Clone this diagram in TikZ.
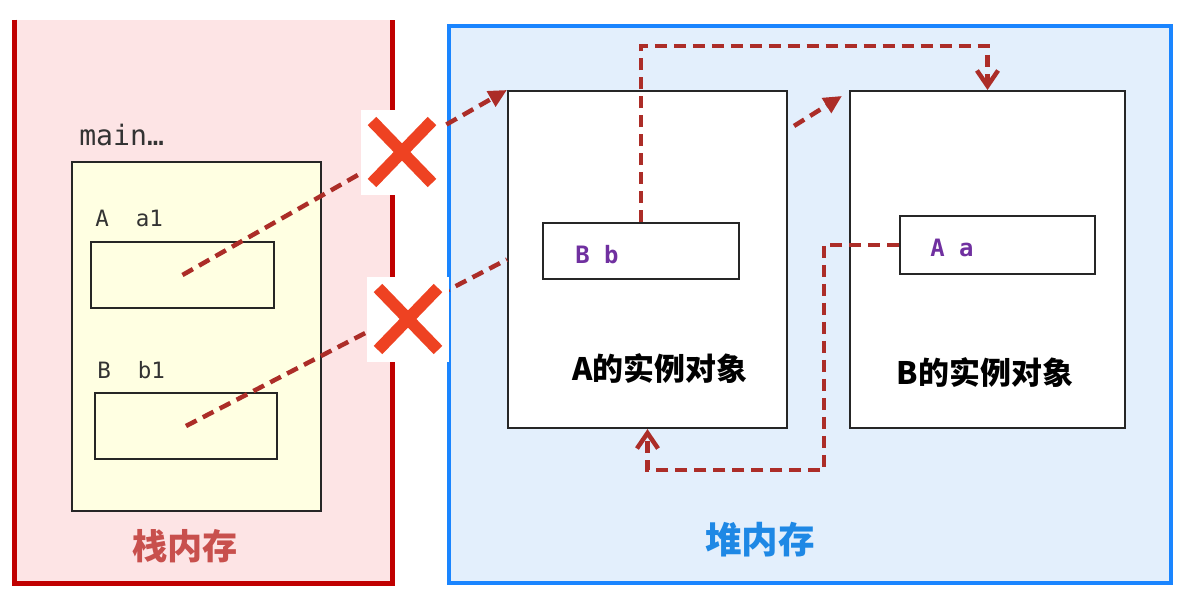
\documentclass[tikz,border=0pt]{standalone}
\usepackage{fontspec}
\setmonofont{DejaVu Sans Mono}
\newfontfamily\cjk{Noto Sans CJK SC}
\usepackage{xcolor}
\usetikzlibrary{arrows.meta, calc}
\definecolor{stackred}{RGB}{192, 0, 0}
\definecolor{stackbg}{RGB}{253, 228, 229}
\definecolor{heapblue}{RGB}{26, 133, 255}
\definecolor{heapbg}{RGB}{227, 239, 252}
\definecolor{framebg}{RGB}{255, 255, 226}
\definecolor{refred}{RGB}{172, 45, 40}
\definecolor{crossred}{RGB}{238, 66, 34}
\definecolor{varpurple}{RGB}{112, 48, 160}
\definecolor{stacklabel}{RGB}{200, 80, 77}
\definecolor{heaplabel}{RGB}{30, 136, 229}
\newcommand{\px}{0.025cm}

\begin{document}
\begin{tikzpicture}[x=\px, y=-\px,
				wh/.style 2 args={minimum width=#1*\px, minimum height=#2*\px},
				area/.style={rectangle, inner sep=0pt},
				box/.style={rectangle, draw=black!85, line width=1.5pt, inner sep=0pt},
				codetxt/.style={anchor=west, inner sep=0pt, font=\ttfamily\fontsize{16}{16}\selectfont, text=black!80},
				vartxt/.style={anchor=west, inner sep=0pt, font=\ttfamily\bfseries\fontsize{17}{17}\selectfont, text=varpurple},
				objtxt/.style={font=\cjk\bfseries\fontsize{22}{22}\selectfont},
				reflink/.style={refred, line width=3.2pt, dash pattern=on 8.5pt off 5pt},
				refarrow/.style={reflink, -{Triangle[length=13pt, width=12pt]}},
				backarrow/.style={reflink, -{Straight Barb[length=11pt, width=15pt]}},
				xmark/.style={area, fill=white, wh={82}{85}, path picture={
						\draw[crossred, line width=8.5pt]
						($(path picture bounding box.center)+(-30,-31)$) -- ($(path picture bounding box.center)+(30,31)$)
						($(path picture bounding box.center)+(-30,31)$) -- ($(path picture bounding box.center)+(30,-31)$);}}
				]
				\useasboundingbox (0,0) rectangle (1183,595);
				
				% Stack memory
				\node[area, fill=stackbg, wh={377}{563}] (stack) at (203.5, 301.5) {};
				\draw[stackred, line width=3.5pt] (stack.north west) -- (stack.south west) -- (stack.south east) -- (stack.north east);
				\node[font=\cjk\bfseries\fontsize{25}{25}\selectfont, text=stacklabel] (stacklbl) at (185, 546) {栈内存};
				
				% Heap memory
				\node[area, draw=heapblue, line width=3.5pt, fill=heapbg, wh={722}{557}] (heap) at (810, 304.5) {};
				\node[font=\cjk\bfseries\fontsize{26}{26}\selectfont, text=heaplabel] (heaplbl) at (760, 540) {堆内存};
				
				% main frame
				\node[codetxt, font=\ttfamily\fontsize{20}{20}\selectfont] (mainlbl) at (79, 135) {main…};
				\node[box, fill=framebg, wh={249}{349}] (frame) at (196.5, 336.5) {};
				\node[codetxt] (a1lbl) at (95, 218) {A\ \ a1};
				\node[box, fill=framebg, wh={183}{66}] (a1box) at (182.5, 275) {};
				\node[codetxt] (b1lbl) at (97, 370) {B\ \ b1};
				\node[box, fill=framebg, wh={182}{66}] (b1box) at (186, 426) {};
				
				% Instance objects
				\node[box, fill=white, wh={279}{337}] (objA) at (647.5, 259.5) {};
				\node[box, fill=white, wh={196}{56}] (bbox) at (641, 251) {};
				\node[vartxt] (blbl) at (575, 255) {B b};
				\node[objtxt] (objAlbl) at (660, 368) {A的实例对象};
				
				\node[box, fill=white, wh={275}{337}] (objB) at (987.5, 259.5) {};
				\node[box, fill=white, wh={195}{58}] (abox) at (997.5, 245) {};
				\node[vartxt] (albl) at (930, 248) {A a};
				\node[objtxt] (objBlbl) at (985, 372) {B的实例对象};
				
				% References
				\draw[refarrow] (a1box.center) -- (objA.north west);
				\draw[reflink] (b1box.center) -- (objA.west);
				\draw[refarrow] ([shift={(6,36)}]objA.north east) -- ([shift={(-7,6)}]objB.north west);
				\draw[backarrow] (bbox.north) -- ++(0,-176) -| (objB.north);
				\draw[backarrow] (abox.west) -- ++(-75,0) -- ++(0,225) -| (objA.south);
				
				% Cut references
				\node[xmark] (xa) at (402, 152) {};
				\node[xmark] (xb) at (408, 319) {};
			\end{tikzpicture}
\end{document}
